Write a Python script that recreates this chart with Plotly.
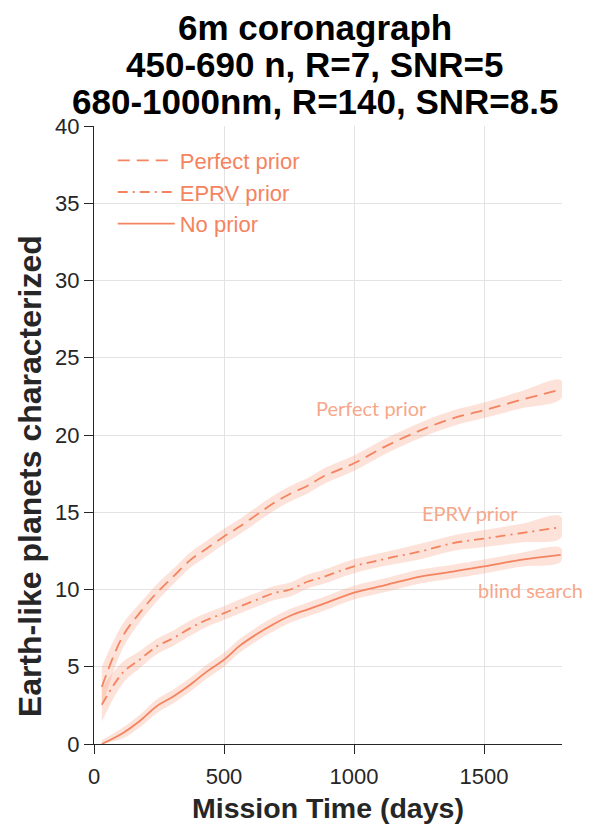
import plotly.graph_objects as go

# Mission time samples (days)
days = [30, 110, 175, 240, 305, 370, 435, 500, 560, 625, 690, 755, 820, 880,
        1000, 1125, 1255, 1380, 1500, 1640, 1795]

# Mean number of Earth-like planets characterized
perfect_prior = [3.7, 6.96, 8.47, 9.76, 10.84, 11.9, 12.67, 13.43, 14.07, 14.83, 15.58,
                 16.2, 16.7, 17.3, 18.17, 19.3, 20.3, 21.08, 21.6, 22.26, 22.95]
eprv_prior = [2.54, 4.6, 5.45, 6.3, 6.85, 7.5, 8.04, 8.47, 8.9, 9.33, 9.76,
              10.0, 10.5, 10.8, 11.5, 12.0, 12.46, 13.0, 13.3, 13.64, 14.03]
no_prior = [0.0, 0.7, 1.47, 2.43, 3.08, 3.84, 4.7, 5.45, 6.35, 7.1, 7.75,
            8.3, 8.7, 9.05, 9.8, 10.3, 10.84, 11.16, 11.49, 11.92, 12.24]

# Half-width of the uncertainty band around each mean
perfect_err = [1.3, 0.8, 0.6, 0.55, 0.5, 0.5, 0.5, 0.5, 0.5, 0.5, 0.5,
               0.5, 0.5, 0.5, 0.5, 0.5, 0.5, 0.5, 0.5, 0.55, 0.6]
eprv_err = [1.1, 0.7, 0.55, 0.5, 0.5, 0.5, 0.45, 0.45, 0.45, 0.45, 0.45,
            0.45, 0.45, 0.45, 0.45, 0.45, 0.5, 0.5, 0.55, 0.6, 0.7]
no_err = [0.25, 0.35, 0.4, 0.45, 0.45, 0.45, 0.45, 0.45, 0.45, 0.45, 0.45,
          0.45, 0.45, 0.45, 0.45, 0.45, 0.45, 0.45, 0.45, 0.45, 0.45]

series_names = ["Perfect prior", "EPRV prior", "No prior"]
series_labels = ["Perfect prior", "EPRV prior", "blind search"]
label_pos = [(1069, 21.75), (1446, 14.95), (1677, 9.97)]

LINE = "#F4845F"
BAND = "rgba(247, 160, 128, 0.30)"
LABEL = "#F7A78A"
DARK = "#262626"
SANS = "Liberation Sans, Arial, Helvetica, sans-serif"

fig = go.Figure()

series = [
    (perfect_prior, perfect_err, "12px,7px"),
    (eprv_prior, eprv_err, "10px,5px,2px,5px"),
    (no_prior, no_err, "solid"),
]

for (vals, err, dash), name in zip(series, series_names):
    upper = [v + e for v, e in zip(vals, err)]
    lower = [max(v - e, 0) for v, e in zip(vals, err)]
    fig.add_trace(go.Scatter(
        x=days + days[::-1], y=upper + lower[::-1],
        fill="toself", fillcolor=BAND, line=dict(width=0),
        mode="lines", hoverinfo="skip", showlegend=False,
        line_shape="spline",
    ))
    fig.add_trace(go.Scatter(
        x=days, y=vals, mode="lines", name=name,
        line=dict(color=LINE, width=1.8, dash=dash, shape="spline"),
    ))

annotations = []

# Three-line title
title_lines = ["6m coronagraph", "450-690 n, R=7, SNR=5", "680-1000nm, R=140, SNR=8.5"]
title_y = [1.160, 1.100, 1.040]
for txt, yy in zip(title_lines, title_y):
    annotations.append(dict(
        text="<b>%s</b>" % txt, xref="paper", yref="paper", x=0.472, y=yy,
        xanchor="center", yanchor="middle", showarrow=False,
        font=dict(family=SANS, size=35, color="#000000"),
    ))

# Axis titles
annotations.append(dict(
    text="<b>Mission Time (days)</b>", xref="paper", yref="paper",
    x=0.5, y=-0.1036, xanchor="center", yanchor="middle", showarrow=False,
    font=dict(family=SANS, size=28.5, color=DARK),
))
annotations.append(dict(
    text="<b>Earth-like planets characterized</b>", xref="paper", yref="paper",
    x=-0.138, y=0.434, xanchor="center", yanchor="middle", showarrow=False,
    textangle=-90, font=dict(family=SANS, size=32, color=DARK),
))

# Curve labels
for txt, (lx, ly) in zip(series_labels, label_pos):
    annotations.append(dict(
        text=txt, x=lx, y=ly, xref="x", yref="y", showarrow=False,
        xanchor="center", yanchor="middle",
        font=dict(family="Lato, Open Sans, sans-serif", size=20, color=LABEL),
    ))

fig.update_layout(
    width=590, height=833,
    margin=dict(l=94, r=28, t=126, b=89),
    paper_bgcolor="white", plot_bgcolor="white",
    showlegend=True,
    legend=dict(
        x=0.04, y=0.978, xanchor="left", yanchor="top",
        bgcolor="rgba(0,0,0,0)", itemwidth=57,
        font=dict(family=SANS, size=22, color=LINE),
        tracegroupgap=0,
    ),
    annotations=annotations,
)

fig.update_xaxes(
    range=[0, 1800], tickvals=[0, 500, 1000, 1500],
    showgrid=True, gridcolor="#E3E3E3", gridwidth=1,
    showline=True, linecolor=DARK, linewidth=1,
    ticks="outside", ticklen=9, tickcolor=DARK, ticklabelstandoff=4,
    tickfont=dict(family=SANS, size=22, color=DARK),
    zeroline=False,
)
fig.update_yaxes(
    range=[0, 40], tickvals=[0, 5, 10, 15, 20, 25, 30, 35, 40],
    showgrid=True, gridcolor="#E3E3E3", gridwidth=1,
    showline=True, linecolor=DARK, linewidth=1,
    ticks="outside", ticklen=9, tickcolor=DARK,
    tickfont=dict(family=SANS, size=22, color=DARK),
    zeroline=False,
)

fig.write_html("out.html")
